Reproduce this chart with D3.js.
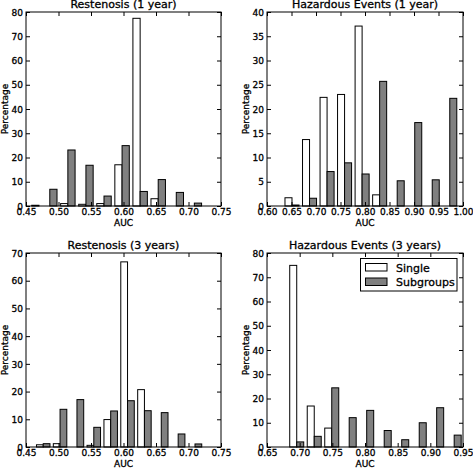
<!DOCTYPE html>
<html>
<head>
<meta charset="utf-8">
<script src="https://cdn.jsdelivr.net/npm/d3@7/dist/d3.min.js"></script>
<style>
  html, body { margin: 0; padding: 0; background: #fff; }
  svg { display: block; }
  text { font-family: "DejaVu Sans", sans-serif; fill: #000; stroke: #000; stroke-width: 0.3px; }
</style>
</head>
<body>
<svg id="chart" width="473" height="470"></svg>
<script>
// ---------- DATA ----------
const seriesNames = ["Single", "Subgroups"];

// Restenosis (1 year)
const r1Bins      = [0.4588, 0.4866, 0.5144, 0.5422, 0.5700, 0.5978, 0.6256, 0.6534, 0.6812, 0.7090];
const r1Single    = [0, 0, 1.0, 0.7, 1.0, 17.0, 77.4, 3.0, 0, 0];
const r1Subgroups = [0.3, 6.9, 23.1, 16.8, 4.1, 24.9, 6.0, 10.9, 5.6, 1.2];
const r1XTicks    = [0.45, 0.50, 0.55, 0.60, 0.65, 0.70, 0.75];
const r1YTicks    = [0, 10, 20, 30, 40, 50, 60, 70, 80];

// Hazardous Events (1 year)
const h1Bins      = [0.6510, 0.6868, 0.7226, 0.7583, 0.7941, 0.8299, 0.8657, 0.9015, 0.9372, 0.9730];
const h1Single    = [1.7, 13.7, 22.4, 23.0, 37.1, 2.3, 0, 0, 0, 0];
const h1Subgroups = [0.2, 1.6, 7.1, 8.9, 6.6, 25.7, 5.2, 17.2, 5.4, 22.2];
const h1XTicks    = [0.60, 0.65, 0.70, 0.75, 0.80, 0.85, 0.90, 0.95, 1.00];
const h1YTicks    = [0, 5, 10, 15, 20, 25, 30, 35, 40];

// Restenosis (3 years)
const r3Bins      = [0.4765, 0.5024, 0.5284, 0.5543, 0.5803, 0.6062, 0.6322, 0.6581, 0.6841, 0.7100];
const r3Single    = [0.8, 1.2, 0, 0.6, 9.9, 66.8, 20.7, 0, 0, 0];
const r3Subgroups = [1.2, 13.6, 17.1, 7.1, 13.0, 16.7, 13.1, 12.4, 4.7, 1.1];
const r3XTicks    = [0.45, 0.50, 0.55, 0.60, 0.65, 0.70, 0.75];
const r3YTicks    = [0, 10, 20, 30, 40, 50, 60, 70];

// Hazardous Events (3 years)
const h3Bins      = [0.6955, 0.7223, 0.7491, 0.7758, 0.8026, 0.8294, 0.8562, 0.8830, 0.9097, 0.9365];
const h3Single    = [74.9, 16.9, 7.8, 0, 0, 0, 0, 0, 0, 0];
const h3Subgroups = [2.1, 4.4, 24.4, 12.1, 15.1, 6.8, 3.0, 10.0, 16.2, 4.9];
const h3XTicks    = [0.65, 0.70, 0.75, 0.80, 0.85, 0.90, 0.95];
const h3YTicks    = [0, 10, 20, 30, 40, 50, 60, 70, 80];

const titles = ["Restenosis (1 year)", "Hazardous Events (1 year)", "Restenosis (3 years)", "Hazardous Events (3 years)"];

// ---------- LAYOUT ----------
const colors = ["#ffffff", "#808080"];
const panels = [
  { title: titles[0], bins: r1Bins, s: [r1Single, r1Subgroups], xt: r1XTicks, yt: r1YTicks, x0: 26,  x1: 221, y0: 12,  y1: 206 },
  { title: titles[1], bins: h1Bins, s: [h1Single, h1Subgroups], xt: h1XTicks, yt: h1YTicks, x0: 267, x1: 463, y0: 12,  y1: 206 },
  { title: titles[2], bins: r3Bins, s: [r3Single, r3Subgroups], xt: r3XTicks, yt: r3YTicks, x0: 26,  x1: 221, y0: 253, y1: 447 },
  { title: titles[3], bins: h3Bins, s: [h3Single, h3Subgroups], xt: h3XTicks, yt: h3YTicks, x0: 267, x1: 463, y0: 253, y1: 447, legend: true }
];

const svg = d3.select("#chart");
const TL = 4; // tick length

panels.forEach(p => {
  const x = d3.scaleLinear().domain(d3.extent(p.xt)).range([p.x0, p.x1]);
  const y = d3.scaleLinear().domain(d3.extent(p.yt)).range([p.y1, p.y0]);
  const g = svg.append("g");
  const bw = (p.bins[p.bins.length - 1] - p.bins[0]) / (p.bins.length - 1);
  const barW = 0.4 * bw;

  // bars
  p.s.forEach((vals, si) => {
    const off = si === 0 ? -barW : 0;
    const data = p.bins.map((b, i) => ({ b, v: vals[i] })).filter(d => d.v > 0);
    g.selectAll(null).data(data).enter().append("rect")
      .attr("x", d => x(d.b + off))
      .attr("width", d => x(d.b + off + barW) - x(d.b + off))
      .attr("y", d => y(d.v))
      .attr("height", d => y(0) - y(d.v))
      .attr("fill", colors[si])
      .attr("stroke", "#000")
      .attr("stroke-width", 1);
  });

  // axes (inward ticks on all sides, using d3 axes)
  const bottom = d3.axisBottom(x).tickValues(p.xt).tickSize(-TL).tickPadding(3).tickFormat(d3.format(".2f"));
  const top = d3.axisTop(x).tickValues(p.xt).tickSize(-TL).tickFormat("");
  const left = d3.axisLeft(y).tickValues(p.yt).tickSize(-TL).tickPadding(3).tickFormat(d3.format("d"));
  const right = d3.axisRight(y).tickValues(p.yt).tickSize(-TL).tickFormat("");

  const styleAxis = sel => {
    sel.select(".domain").remove();
    sel.selectAll(".tick line").attr("stroke", "#000").attr("stroke-width", 1);
    sel.selectAll(".tick text").attr("font-family", "DejaVu Sans").attr("font-size", 9).attr("fill", "#000");
  };
  const gb = g.append("g").attr("transform", `translate(0,${p.y1})`).call(bottom).call(styleAxis);
  gb.selectAll(".tick text").attr("dy", null).attr("y", 9);
  g.append("g").attr("transform", `translate(0,${p.y0})`).call(top).call(styleAxis);
  const gl = g.append("g").attr("transform", `translate(${p.x0},0)`).call(left).call(styleAxis);
  gl.selectAll(".tick text").attr("dy", "0.35em").attr("x", -3);
  g.append("g").attr("transform", `translate(${p.x1},0)`).call(right).call(styleAxis);

  // frame
  g.append("rect").attr("x", p.x0).attr("y", p.y0)
    .attr("width", p.x1 - p.x0).attr("height", p.y1 - p.y0)
    .attr("fill", "none").attr("stroke", "#000").attr("stroke-width", 1);

  // title
  g.append("text").attr("x", (p.x0 + p.x1) / 2).attr("y", p.y0 - 3.8)
    .attr("text-anchor", "middle").attr("font-size", 11).text(p.title);
  // x label
  g.append("text").attr("x", (p.x0 + p.x1) / 2).attr("y", p.y1 + 19.5)
    .attr("text-anchor", "middle").attr("font-size", 9).text("AUC");
  // y label
  g.append("text")
    .attr("transform", `translate(${p.x0 - 18.5},${(p.y0 + p.y1) / 2}) rotate(-90)`)
    .attr("text-anchor", "middle").attr("font-size", 9).text("Percentage");

  if (p.legend) {
    const lg = svg.append("g");
    lg.append("rect").attr("x", 360.5).attr("y", 258.5).attr("width", 96.5).attr("height", 32.5)
      .attr("fill", "#fff").attr("stroke", "#000").attr("stroke-width", 1);
    seriesNames.forEach((n, i) => {
      lg.append("rect").attr("x", 365.5).attr("y", 263.5 + i * 14.5).attr("width", 21.5).attr("height", 7.5)
        .attr("fill", colors[i]).attr("stroke", "#000").attr("stroke-width", 1);
      lg.append("text").attr("x", 396).attr("y", 271.5 + i * 14.8).attr("font-size", 11).text(n);
    });
  }
});
</script>
</body>
</html>
